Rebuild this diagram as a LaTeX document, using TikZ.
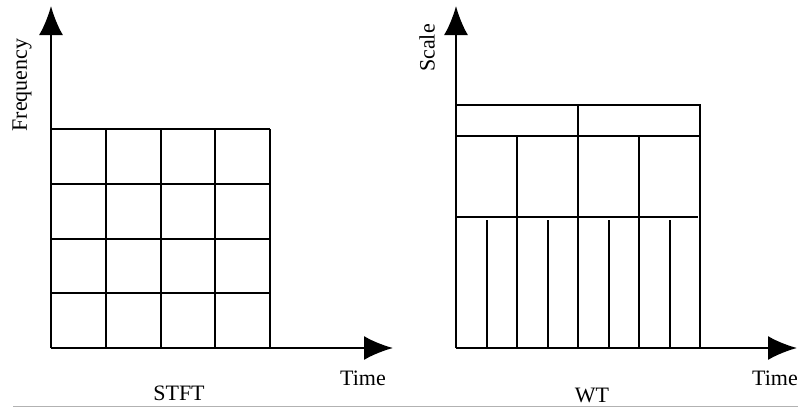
\documentclass[tikz,border=0pt]{standalone}
\usepackage{fontspec}
\setmainfont{Liberation Serif}
\usetikzlibrary{arrows.meta}
\tikzset{
  axis/.style={line width=2.2pt,-{Latex[length=29pt,width=24pt]}},
  cell/.style={line width=2pt},
  lbl/.style={font=\fontsize{22}{25}\selectfont,inner sep=0pt}
}
\begin{document}
\begin{tikzpicture}[x=1pt,y=-1pt]
	\useasboundingbox (0,0) rectangle (798,408);
	% STFT
	\foreach \k in {0,...,3} {
		\draw [cell] (51,129+54.75*\k) -- (270,129+54.75*\k);
		\draw [cell] (105.75+54.75*\k,129) -- (105.75+54.75*\k,348);
	}
	\draw [axis] (51,348) -- (51,6);
	\draw [axis] (51,348) -- (393,348);
	\node [lbl,rotate=90] (freq) at (22,85) {Frequency};
	\node [lbl] (time1) at (363,378) {Time};
	\node [lbl] (stft) at (179,393) {STFT};
	% WT
	\draw [cell] (456,105) -- (700,105) -- (700,348);
	\draw [cell] (456,136) -- (700,136);
	\draw [cell] (456,217) -- (698,217);
	\draw [cell] (578,105) -- (578,348);
	\draw [cell] (517,136) -- (517,348);
	\draw [cell] (639,136) -- (639,348);
	\foreach \x in {487,548,609,670}
		\draw [cell] (\x,220) -- (\x,348);
	\draw [axis] (456,348) -- (456,6);
	\draw [axis] (456,348) -- (797,348);
	\node [lbl,rotate=90] (scale) at (427,48) {Scale};
	\node [lbl] (time2) at (775,378) {Time};
	\node [lbl] (wt) at (592,395) {WT};
	\draw [gray!60,line width=1.5pt] (13,406.5) -- (798,406.5);
\end{tikzpicture}
\end{document}
